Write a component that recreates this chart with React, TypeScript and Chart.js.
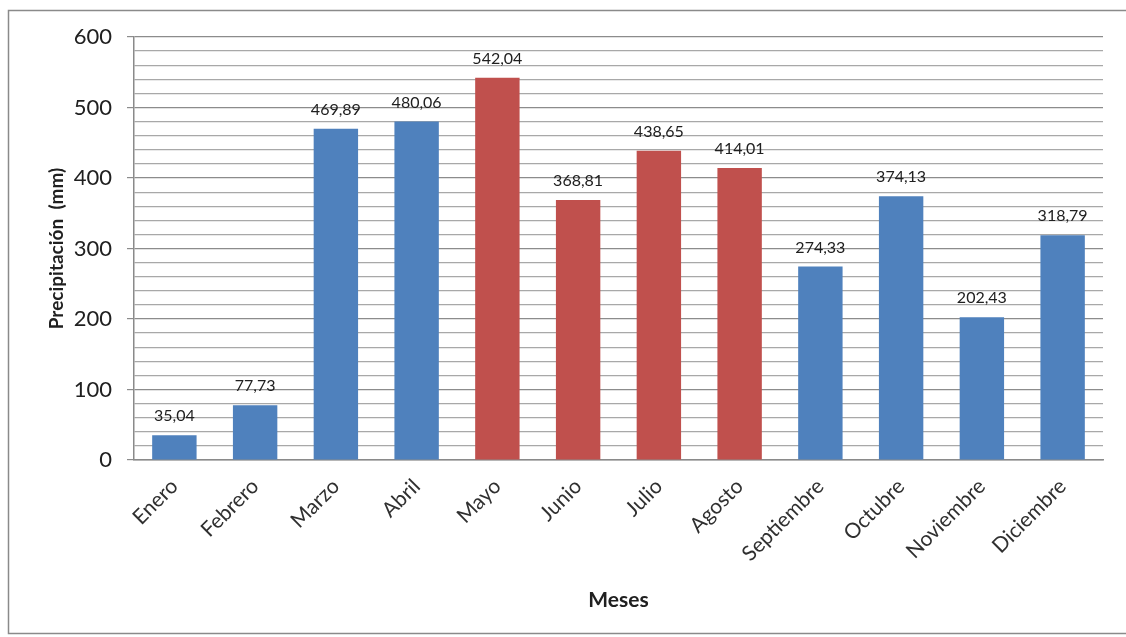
import React, { useEffect, useRef } from "react";
import { Chart, registerables } from "chart.js";

Chart.register(...registerables);

const months = ["Enero", "Febrero", "Marzo", "Abril", "Mayo", "Junio", "Julio", "Agosto", "Septiembre", "Octubre", "Noviembre", "Diciembre"];
const precip = [35.04, 77.73, 469.89, 480.06, 542.04, 368.81, 438.65, 414.01, 274.33, 374.13, 202.43, 318.79];
const rainySeason = [false, false, false, false, true, true, true, true, false, false, false, false];
const yMin = 0;
const yMax = 600;
const yStep = 20;
const yMajor = 100;

const BLUE = "#4F81BD";
const RED = "#C0504D";
const FONT = "Lato, 'Open Sans', sans-serif";

const fmt = (v: number) => v.toFixed(2).replace(".", ",");

const labelPlugin = {
  id: "barLabels",
  afterDatasetsDraw(chart: any) {
    const ctx = chart.ctx;
    const meta = chart.getDatasetMeta(0);
    ctx.save();
    ctx.font = `16px ${FONT}`;
    ctx.fillStyle = "#202020";
    ctx.textAlign = "center";
    ctx.textBaseline = "bottom";
    meta.data.forEach((bar: any, i: number) => {
      ctx.fillText(fmt(precip[i]), bar.x, bar.y - 11);
    });
    ctx.restore();
  },
};

const borderPlugin = {
  id: "outerBorder",
  beforeDraw(chart: any) {
    const ctx = chart.ctx;
    ctx.save();
    ctx.fillStyle = "#ffffff";
    ctx.fillRect(0, 0, chart.width, chart.height);
    ctx.strokeStyle = "#8a8a8a";
    ctx.lineWidth = 1.5;
    ctx.strokeRect(8.5, 10.5, chart.width + 20, chart.height - 14);
    ctx.restore();
  },
};

export default function App() {
  const ref = useRef<HTMLCanvasElement>(null);
  useEffect(() => {
    if (!ref.current) return;
    const chart = new Chart(ref.current, {
      type: "bar",
      data: {
        labels: months,
        datasets: [
          {
            data: precip,
            backgroundColor: rainySeason.map((r) => (r ? RED : BLUE)),
            barPercentage: 0.55,
            categoryPercentage: 1,
          },
        ],
      },
      options: {
        animation: false,
        responsive: false,
        maintainAspectRatio: false,
        layout: { padding: { left: 0, right: 23, top: 37, bottom: 0 } },
        plugins: { legend: { display: false }, tooltip: { enabled: false } },
        scales: {
          x: {
            grid: { display: false },
            border: { color: "#8a8a8a", width: 1.5 },
            ticks: {
              minRotation: 45,
              maxRotation: 45,
              autoSkip: false,
              color: "#303030",
              font: { family: FONT, size: 21 },
              padding: 6,
            },
            title: {
              display: true,
              text: "Meses",
              color: "#202020",
              font: { family: FONT, size: 21, weight: "bold" },
              padding: { top: 0, bottom: 24 },
            },
            afterFit(scale: any) {
              scale.height = 177;
            },
          },
          y: {
            min: yMin,
            max: yMax,
            grid: {
              color: (c: any) => (c.tick && c.tick.value % yMajor === 0 ? "#8c8c8c" : "#a8a8a8"),
              tickColor: (c: any) => (c.tick && c.tick.value % yMajor === 0 ? "#8c8c8c" : "rgba(0,0,0,0)"),
              lineWidth: 1.2,
              tickLength: 7,
            },
            border: { color: "#8a8a8a", width: 1.5 },
            ticks: {
              stepSize: yStep,
              autoSkip: false,
              color: "#202020",
              font: { family: FONT, size: 22 },
              padding: 15,
              callback: (v: any) => (Number(v) % yMajor === 0 ? String(v) : ""),
            },
            title: {
              display: true,
              text: "Precipitación  (mm)",
              color: "#202020",
              font: { family: FONT, size: 19, weight: "bold" },
              padding: { top: 45, bottom: 0 },
            },
            afterFit(scale: any) {
              scale.width = 134;
            },
          },
        },
      },
      plugins: [borderPlugin, labelPlugin],
    });
    return () => chart.destroy();
  }, []);
  return (
    <div style={{ position: "fixed", left: 0, top: 0, width: 1126, height: 637, background: "#fff" }}>
      <canvas ref={ref} width={1126} height={637} style={{ width: 1126, height: 637 }} />
    </div>
  );
}
